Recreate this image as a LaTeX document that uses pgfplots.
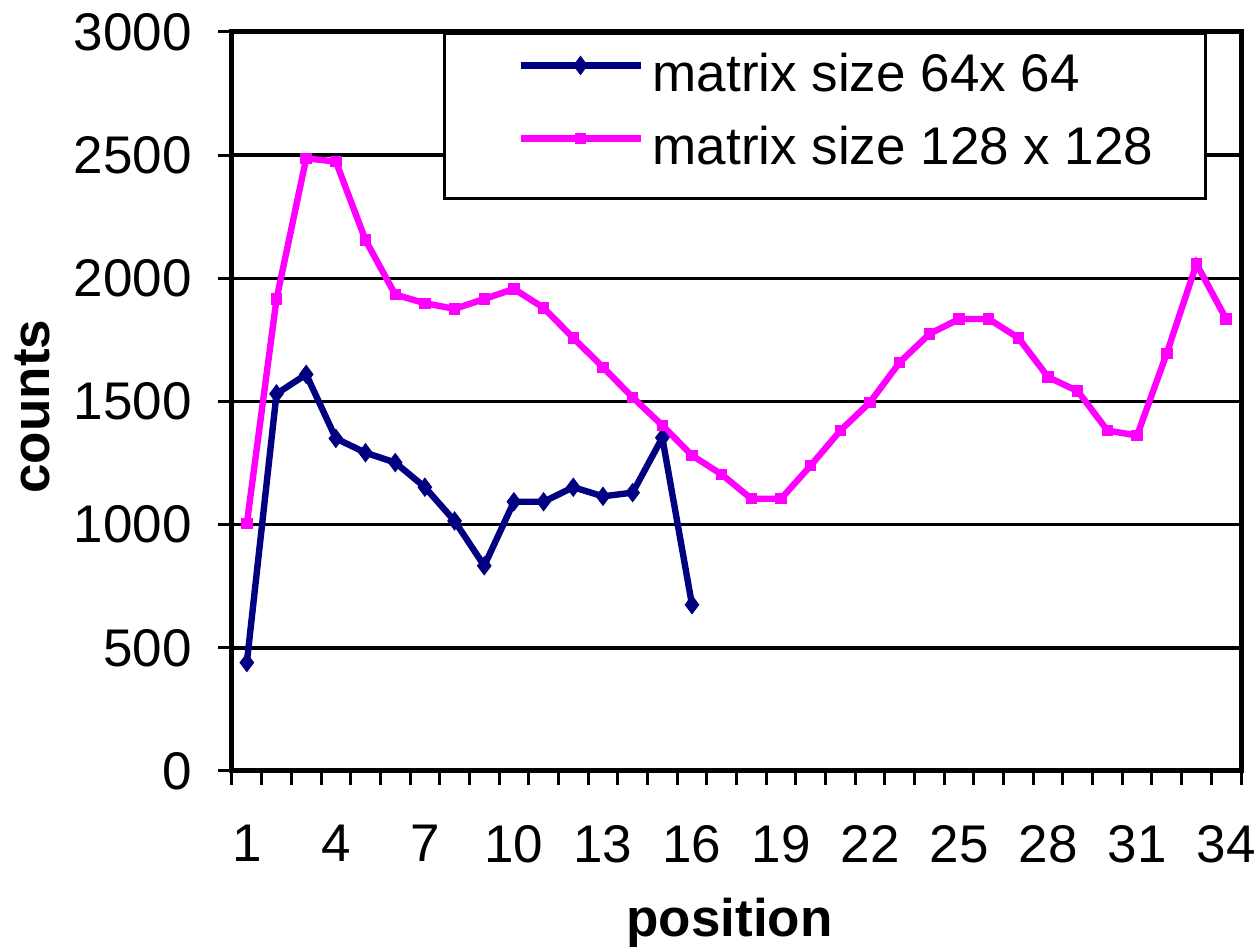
\documentclass[border=0pt]{standalone}
\usepackage{fontspec}
\setmainfont{Liberation Sans}
\usepackage{pgfplots}
\pgfplotsset{compat=1.18}
\definecolor{navyb}{RGB}{0,0,128}
\definecolor{magp}{RGB}{255,0,255}
\newcommand{\chartfont}{\fontsize{26.5}{32}\selectfont}
\begin{document}
\chartfont
\begin{tikzpicture}
\begin{axis}[
  at={(0,0)}, anchor=south west,
  scale only axis, width=504.5pt, height=369.5pt,
  xmin=0.5, xmax=34.5, ymin=0, ymax=3000,
  xtick={1,4,...,34}, ytick={0,500,...,3000},
  minor xtick={0.5,1.5,...,34.5},
  ymajorgrids, grid style={black, line width=1.75pt},
  axis line style={black, line width=2.5pt},
  tick align=outside, tick pos=left,
  major tick length=7pt, minor tick length=7pt,
  major x tick style={draw=none},
  minor x tick style={black, line width=1.5pt},
  major y tick style={black, line width=1.5pt},
  tick label style={font=\chartfont},
  xticklabel style={anchor=north, inner sep=0pt, yshift=-20pt},
  yticklabel style={anchor=east, inner sep=0pt, xshift=-13pt},
  /pgf/number format/.cd, 1000 sep={}, assume math mode=true, /pgfplots/.cd,
  xlabel={\bfseries position}, ylabel={\bfseries counts},
  label style={font=\chartfont},
  x label style={at={([yshift=-83pt]axis description cs:0.493,0)}, anchor=base},
  y label style={at={([xshift=-91pt]axis description cs:0,0.493)}, anchor=base, rotate=0},
  legend style={at={(rel axis cs:0.9663,1)}, anchor=north east, draw=black, line width=1.5pt, fill=white,
    inner xsep=26pt, inner ysep=9.5pt, row sep=9.5pt, column sep=4.5pt,
    nodes={inner sep=0pt, text height=19.5pt, text depth=7.5pt}, font=\chartfont},
  legend cell align=left,
  legend image code/.code={\path (0pt,0pt); \draw[#1, mark repeat=2, mark phase=2] plot coordinates {(10.5pt,7pt) (40.5pt,7pt) (70.5pt,7pt)};},
]
\addplot[navyb, line width=3.2pt, mark=diamond*, mark size=4.5pt, mark options={solid, line width=0.5pt}] coordinates {
(1,440) (2,1531) (3,1610) (4,1350) (5,1292) (6,1252) (7,1152) (8,1015)
(9,833) (10,1093) (11,1093) (12,1152) (13,1115) (14,1130) (15,1353) (16,675)
};
\addlegendentry{matrix size 64x 64}
\addplot[magp, line width=3.2pt, mark=square*, mark size=2.6pt, mark options={solid, line width=0.5pt}] coordinates {
(1,1004) (2,1916) (3,2487) (4,2474) (5,2155) (6,1934) (7,1899) (8,1876)
(9,1916) (10,1957) (11,1880) (12,1758) (13,1639) (14,1517) (15,1403) (16,1281)
(17,1204) (18,1105) (19,1105) (20,1240) (21,1382) (22,1497) (23,1659) (24,1774)
(25,1835) (26,1835) (27,1758) (28,1599) (29,1542) (30,1382) (31,1362) (32,1696)
(33,2058) (34,1835)
};
\addlegendentry{matrix size 128 x 128}
\end{axis}
\pgfresetboundingbox
\useasboundingbox (-116pt,-90pt) rectangle (513pt,385.5pt);
\end{tikzpicture}
\end{document}
